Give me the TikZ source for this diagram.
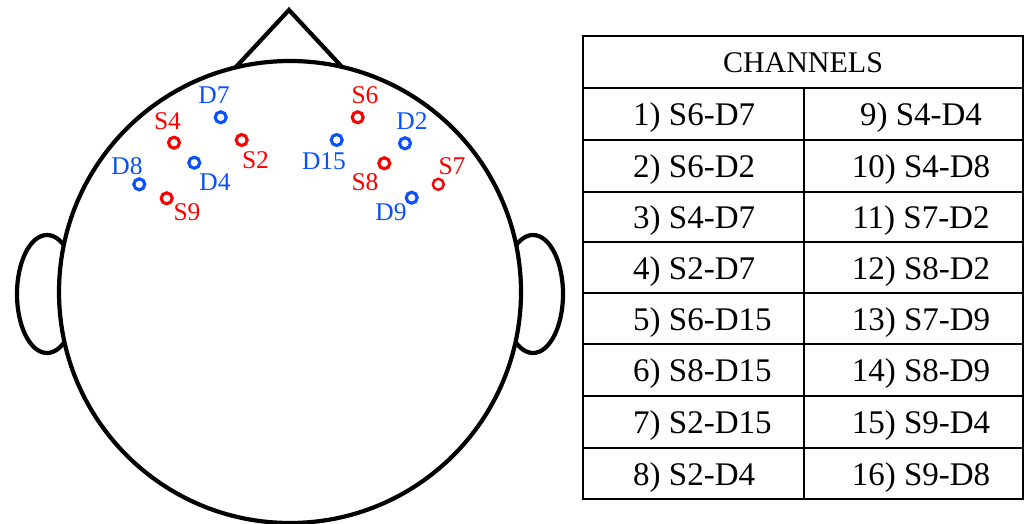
\documentclass[tikz,border=0pt]{standalone}
\usepackage{fontspec}
\setmainfont{Liberation Serif}
\definecolor{srccol}{RGB}{250,0,0}
\definecolor{detcol}{RGB}{10,80,255}
\begin{document}
\begin{tikzpicture}[x=1pt,y=-1pt,
  head/.style={line width=4.2pt, draw=black, fill=white},
  opt/.style={circle, minimum size=11pt, inner sep=0pt, line width=3.1pt},
  srcopt/.style={opt, draw=srccol},
  detopt/.style={opt, draw=detcol},
  lab/.style={font=\fontsize{25.5}{25.5}\selectfont, inner sep=0pt, anchor=center},
  srclab/.style={lab, text=srccol},
  detlab/.style={lab, text=detcol},
  grid/.style={line width=2pt, draw=black},
  cell/.style={font=\fontsize{33}{33}\selectfont, inner sep=0pt},
  lcell/.style={cell, anchor=base west},
  rcell/.style={cell, anchor=base}
]
\useasboundingbox (0,0) rectangle (1027,524);
% head
\draw[head] (47,294) ellipse [x radius=30, y radius=59];
\draw[head] (533,294) ellipse [x radius=30, y radius=59];
\draw[head, line join=miter] (235,68) -- (289,10) -- (343,68) -- cycle;
\draw[head] (290,292) circle [radius=231];
% optodes
\node[detopt] (d7) at (220.7,117.3) {};
\node[srcopt] (s4) at (174,142.7) {};
\node[srcopt] (s2) at (241.7,140) {};
\node[detopt] (d4) at (194.3,162.7) {};
\node[detopt] (d8) at (139.3,184.3) {};
\node[srcopt] (s9) at (166.7,198.3) {};
\node[srcopt] (s6) at (357.7,117.3) {};
\node[detopt] (d2) at (405,143.3) {};
\node[detopt] (d15) at (336.7,140) {};
\node[srcopt] (s8) at (384.3,163.3) {};
\node[srcopt, line width=2.4pt] (s7) at (438.3,184.3) {};
\node[detopt] (d9) at (411.7,197.7) {};
% labels
\node[detlab] (ld7) at (214,95) {D7};
\node[srclab] (ls4) at (167.5,121.5) {S4};
\node[srclab] (ls2) at (255.5,160) {S2};
\node[detlab] (ld4) at (215,182) {D4};
\node[detlab] (ld8) at (127,166) {D8};
\node[srclab] (ls9) at (187,212) {S9};
\node[srclab] (ls6) at (365,95) {S6};
\node[detlab] (ld2) at (412,121) {D2};
\node[detlab] (ld15) at (324,161) {D15};
\node[srclab] (ls8) at (365,182) {S8};
\node[srclab] (ls7) at (452,166) {S7};
\node[detlab] (ld9) at (391,212) {D9};
% table
\draw[grid] (583,36) rectangle (1023,499);
\foreach \yy in {88,140,192,242,293,344,396,448}
  \draw[grid] (583,\yy) -- (1023,\yy);
\draw[grid] (804,88) -- (804,499);
\node[cell, anchor=base, font=\fontsize{30}{30}\selectfont] (hdr) at (803,73) {CHANNELS};
\node[lcell] (c1) at (633,125) {1) S6-D7};
\node[lcell] (c2) at (633,177) {2) S6-D2};
\node[lcell] (c3) at (633,228) {3) S4-D7};
\node[lcell] (c4) at (633,279) {4) S2-D7};
\node[lcell] (c5) at (633,330) {5) S6-D15};
\node[lcell] (c6) at (633,381) {6) S8-D15};
\node[lcell] (c7) at (633,433) {7) S2-D15};
\node[lcell] (c8) at (633,485) {8) S2-D4};
\node[rcell] (c9) at (921,125) {9) S4-D4};
\node[rcell] (c10) at (921,177) {10) S4-D8};
\node[rcell] (c11) at (921,228) {11) S7-D2};
\node[rcell] (c12) at (921,279) {12) S8-D2};
\node[rcell] (c13) at (921,330) {13) S7-D9};
\node[rcell] (c14) at (921,381) {14) S8-D9};
\node[rcell] (c15) at (921,433) {15) S9-D4};
\node[rcell] (c16) at (921,485) {16) S9-D8};
\end{tikzpicture}
\end{document}
